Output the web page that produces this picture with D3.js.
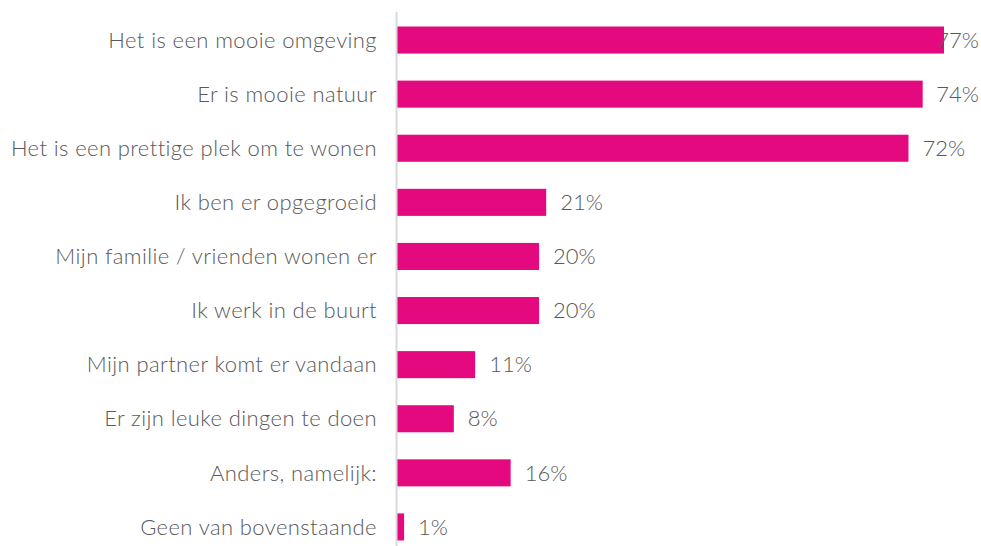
<!DOCTYPE html>
<html>
<head>
<meta charset="utf-8">
<script src="https://cdn.jsdelivr.net/npm/d3@7"></script>
<style>
  body { margin: 0; background: #fff; }
  text { font-family: Lato, "Open Sans", sans-serif; font-weight: 300; fill: #595959; }
</style>
</head>
<body>
<div id="chart"></div>
<script>
// categories and values (percent)
var categories = [
    'Het is een mooie omgeving',
    'Er is mooie natuur',
    'Het is een prettige plek om te wonen',
    'Ik ben er opgegroeid',
    'Mijn familie / vrienden wonen er',
    'Ik werk in de buurt',
    'Mijn partner komt er vandaan',
    'Er zijn leuke dingen te doen',
    'Anders, namelijk:',
    'Geen van bovenstaande'
];
var values = [77, 74, 72, 21, 20, 20, 11, 8, 16, 1];

var width = 981;
var height = 546;
var left = 397;
var barColor = '#e5097f';

var svg = d3.select('#chart').append('svg')
    .attr('width', width)
    .attr('height', height);

var x = d3.scaleLinear().domain([0, 77]).range([left, 944]);
var y = d3.scaleBand().domain(categories).range([13, 554]).paddingInner(0.5).paddingOuter(0.25);

// bars
svg.selectAll('rect.bar')
    .data(values)
    .enter()
    .append('rect')
    .attr('class', 'bar')
    .attr('x', x(0))
    .attr('y', function (d, i) { return y(categories[i]); })
    .attr('height', y.bandwidth())
    .attr('width', function (d) { return x(d) - x(0); })
    .style('fill', barColor);

// axis line
svg.append('line')
    .attr('x1', left - 0.5).attr('x2', left - 0.5)
    .attr('y1', 12).attr('y2', height)
    .style('stroke', '#d9d9d9')
    .style('stroke-width', 2);

// category labels
svg.selectAll('text.cat')
    .data(categories)
    .enter()
    .append('text')
    .attr('class', 'cat')
    .attr('x', left - 20)
    .attr('y', function (d) { return y(d) + y.bandwidth() / 2; })
    .attr('dy', '0.35em')
    .attr('text-anchor', 'end')
    .style('font-size', '22px')
    .style('letter-spacing', '0.4px')
    .text(function (d) { return d; });

// value labels
svg.selectAll('text.val')
    .data(values)
    .enter()
    .append('text')
    .attr('class', 'val')
    .attr('y', function (d, i) { return y(categories[i]) + y.bandwidth() / 2; })
    .attr('dy', '0.35em')
    .style('font-size', '22px')
    .text(function (d) { return d + '%'; })
    .attr('x', function (d) {
        var w = this.getComputedTextLength();
        return Math.min(x(d) + 14, width - 2 - w);
    });
</script>
</body>
</html>
